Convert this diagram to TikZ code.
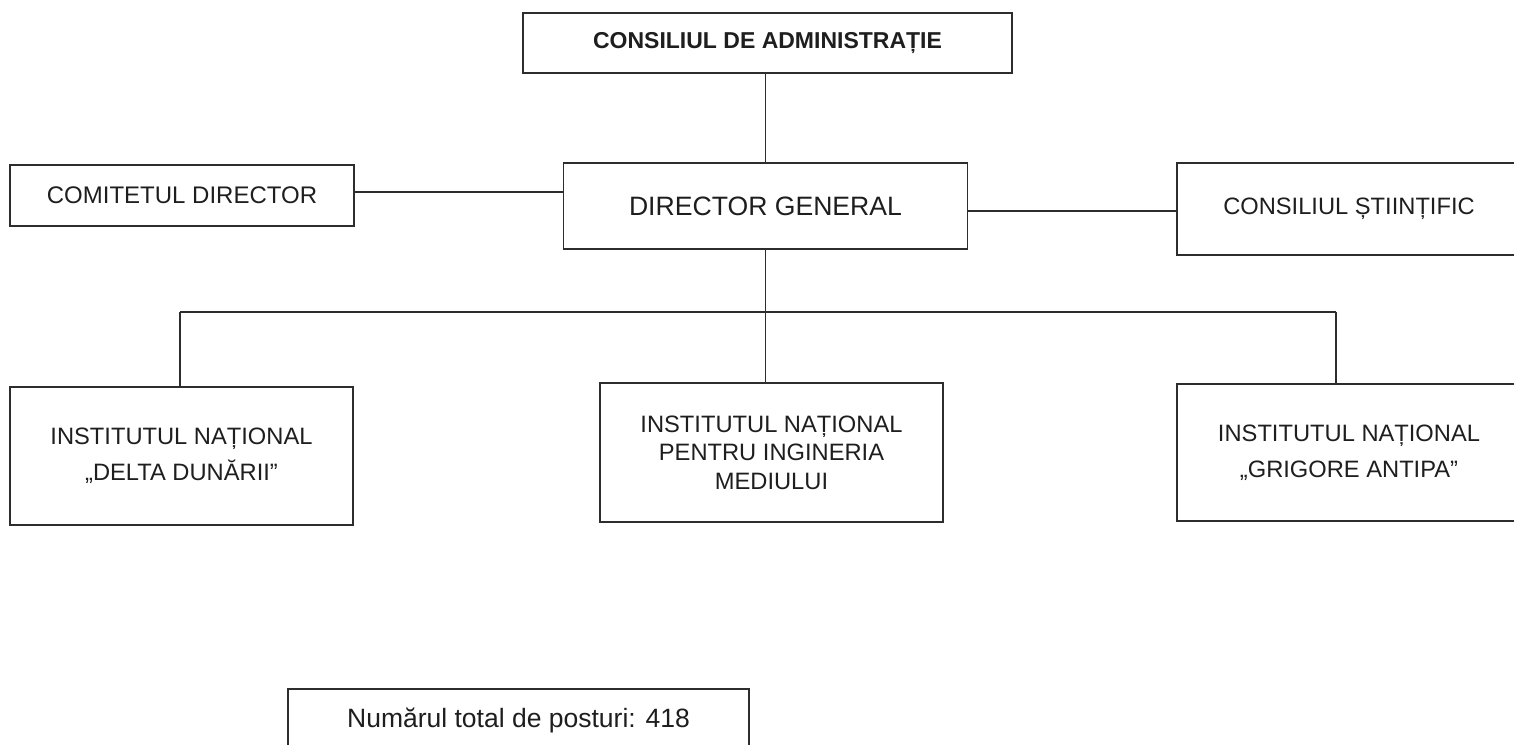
\documentclass[tikz,border=0pt]{standalone}
\usepackage{fontspec}
\setmainfont{Liberation Sans}
\definecolor{linec}{RGB}{45,45,45}
\definecolor{textc}{RGB}{30,30,30}
\begin{document}
\begin{tikzpicture}[x=1pt,y=-1pt,
  box/.style={draw=linec,line width=1.7pt,rectangle,inner sep=0pt,outer sep=0pt,
    align=center,text=textc},
  conn/.style={draw=linec,line width=1.7pt},
  f24/.style={font=\fontsize{24}{29}\selectfont},
  finst/.style={font=\fontsize{23.7}{36}\selectfont},
  finstb/.style={font=\fontsize{23.7}{28.5}\selectfont}]
\useasboundingbox (0,0) rectangle (1514,744);
\clip (0,0) rectangle (1514,744);
\node[box,minimum width=489pt,minimum height=60pt,font=\fontsize{23}{28}\selectfont\bfseries] (ca) at (767.5,43) {CONSILIUL DE ADMINISTRAȚIE};
\node[box,minimum width=344pt,minimum height=61pt,f24] (cd) at (182,195.5) {COMITETUL DIRECTOR};
\node[box,minimum width=404pt,minimum height=86pt,font=\fontsize{26.6}{32}\selectfont] (dg) at (765.5,206) {DIRECTOR GENERAL};
\node[box,minimum width=344pt,minimum height=92pt,font=\fontsize{23.7}{29}\selectfont] (cs) at (1349,209) {CONSILIUL ȘTIINȚIFIC};
\node[box,minimum width=343pt,minimum height=138pt,finst] (i1) at (181.5,456) {INSTITUTUL NAȚIONAL\\„DELTA DUNĂRII”};
\node[box,minimum width=343pt,minimum height=139pt,finstb] (i2) at (771.5,452.5) {INSTITUTUL NAȚIONAL\\PENTRU INGINERIA\\MEDIULUI};
\node[box,minimum width=344pt,minimum height=137pt,finst] (i3) at (1349,452.5) {INSTITUTUL NAȚIONAL\\„GRIGORE ANTIPA”};
\node[box,minimum width=461pt,minimum height=62pt,font=\fontsize{26.5}{32}\selectfont] (nr) at (518.5,720) {Numărul total de posturi: 418};
\coordinate (bl) at (180,312);
\coordinate (br) at (1336,312);
\draw[conn] (ca.south -| dg.north) -- (dg.north);
\draw[conn] ([yshift=3.5pt]cd.east) -- ([yshift=3.5pt]cd.east -| dg.west);
\draw[conn] ([yshift=-2pt]cs.west) -- ([yshift=-2pt]cs.west -| dg.east);
\draw[conn] (dg.south) -- (dg.south |- i2.north);
\draw[conn] (bl) -- (br);
\draw[conn] (bl) -- (bl |- i1.north);
\draw[conn] (br) -- (br |- i3.north);
\end{tikzpicture}
\end{document}
